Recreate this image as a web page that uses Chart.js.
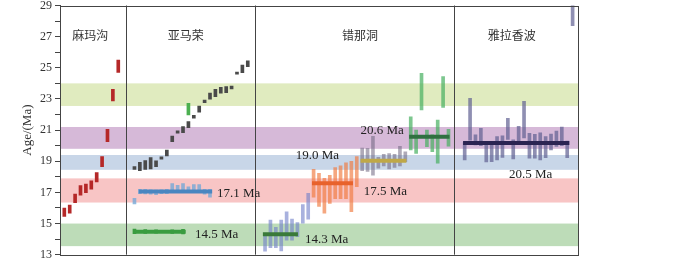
<!DOCTYPE html>
<html><head><meta charset="utf-8">
<script src="https://cdn.jsdelivr.net/npm/chart.js@4/dist/chart.umd.min.js"></script>
<style>html,body{margin:0;padding:0;background:#fff}</style>
</head><body>
<canvas id="c" width="700" height="258"></canvas>
<script>
// ---------- DATA ----------
const yTicksMin = 13, yTicksMax = 29;
const bandLow  = [13.55, 16.35, 18.45, 19.8, 22.55];
const bandHigh = [15.0, 17.9, 19.4, 21.2, 24.0];

const panelNames = ['麻玛沟', '亚马荣', '错那洞', '雅拉香波'];
const panelCenters = [5.6, 23.3, 55.6, 83.7];
const panelEdges = [12.2, 36.2, 73.1];

// 麻玛沟
const mmgPos = [0.8, 1.8, 2.8, 3.8, 4.8, 5.8, 6.8, 7.8, 8.8, 9.8, 10.8];
const mmgLo  = [15.45, 15.66, 16.34, 16.83, 16.98, 17.2, 17.67, 18.65, 20.26, 22.87, 24.7];
const mmgHi  = [16.0, 16.18, 16.9, 17.43, 17.54, 17.75, 18.27, 19.3, 21.05, 23.62, 25.5];

// 亚马荣 (dark)
const ymrPos = [13.8, 14.8, 15.8, 16.8, 17.8, 18.8, 19.8, 20.8, 21.8, 22.8, 23.8, 24.8, 25.8, 26.8, 27.8, 28.8, 29.8, 30.8, 31.8, 32.8, 33.8, 34.8];
const ymrLo  = [18.48, 18.39, 18.48, 18.5, 18.65, 19.13, 19.34, 20.26, 20.8, 20.84, 21.16, 21.76, 22.15, 22.76, 22.98, 23.15, 23.37, 23.4, 23.64, 24.59, 24.69, 25.07];
const ymrHi  = [18.65, 18.93, 19.04, 19.23, 19.02, 19.29, 19.72, 20.62, 20.96, 21.22, 21.54, 21.95, 22.55, 22.93, 23.37, 23.62, 23.75, 23.8, 23.83, 24.73, 25.18, 25.44];
const ymrGreenPos = [23.8];
const ymrGreenLo  = [21.97];
const ymrGreenHi  = [22.72];
// 亚马荣 17.1 Ma group
const ymrBluePos = [13.8, 14.8, 15.8, 16.8, 17.8, 18.8, 19.8, 20.8, 21.8, 22.8, 23.8, 24.8, 25.8, 26.8, 27.8];
const ymrBlueLo  = [16.26, 16.92, 16.9, 16.88, 16.85, 16.92, 16.92, 17.15, 17.1, 17.18, 17.02, 17.05, 17.05, 16.88, 16.7];
const ymrBlueHi  = [16.62, 17.2, 17.2, 17.17, 17.15, 17.17, 17.2, 17.56, 17.45, 17.56, 17.35, 17.5, 17.5, 17.2, 17.2];
// 亚马荣 14.5 Ma group
const ymrG2Pos = [13.8, 15.8, 17.8, 20.8, 22.8];
const ymrG2Lo  = [14.35, 14.36, 14.38, 14.37, 14.34];
const ymrG2Hi  = [14.64, 14.62, 14.6, 14.6, 14.63];

// 错那洞
const cndAPos = [38, 39, 40, 41, 42, 43, 44, 45, 46];
const cndALo  = [13.22, 13.45, 13.45, 13.25, 13.94, 13.94, 14.16, 15.02, 15.28];
const cndAHi  = [14.2, 15.23, 14.75, 15.23, 15.76, 15.28, 15.07, 16.22, 16.94];
const cndBPos = [47, 48, 49, 50, 51, 52, 53, 54, 55];
const cndBLo  = [16.7, 16.1, 15.66, 16.3, 16.6, 16.6, 16.6, 15.76, 17.37];
const cndBHi  = [18.48, 18.23, 17.9, 18.1, 18.6, 18.7, 18.9, 19.0, 19.3];
const cndCPos = [56, 57, 58, 59, 60, 61, 62, 63, 64];
const cndCLo  = [18.4, 18.35, 18.1, 18.55, 18.7, 18.5, 18.6, 18.7, 18.97];
const cndCHi  = [19.85, 19.83, 20.6, 19.25, 19.45, 19.5, 19.45, 19.95, 19.6];
const cndDPos = [65, 66, 67, 68, 69, 70, 71, 72];
const cndDLo  = [19.72, 19.5, 22.29, 19.93, 19.62, 18.87, 22.46, 19.97];
const cndDHi  = [21.86, 21.0, 24.65, 21.0, 20.69, 21.65, 24.43, 21.05];

// 雅拉香波
const ylxbPos = [75, 76, 77, 78, 79, 80, 81, 82, 83, 84, 85, 86, 87, 88, 89, 90, 91, 92, 93, 94, 95];
const ylxbLo  = [19.08, 20.35, 20.05, 20.0, 18.95, 18.97, 19.08, 19.25, 20.4, 19.15, 20.1, 20.5, 19.2, 19.2, 19.08, 19.23, 19.72, 19.95, 20.0, 19.23, 27.7];
const ylxbHi  = [20.2, 23.04, 20.7, 21.12, 20.1, 20.15, 20.58, 20.64, 21.76, 20.37, 21.25, 22.85, 20.8, 20.73, 20.83, 20.58, 20.74, 20.93, 21.2, 20.3, 29.5];

// weighted mean ages
const meanAges  = [14.48, 17.05, 14.31, 17.58, 19.04, 20.58, 20.17];
const meanStart = [13.6, 14.6, 37.6, 46.7, 55.7, 64.7, 74.7];
const meanEnd   = [23.3, 28.2, 44.1, 54.3, 64.2, 72.2, 94.4];
const ageLabels = ['14.5 Ma', '17.1 Ma', '14.3 Ma', '17.5 Ma', '19.0 Ma', '20.6 Ma', '20.5 Ma'];
const labelX    = [25.0, 29.1, 45.4, 56.3, 43.7, 55.7, 83.2];
const labelY    = [14.27, 16.9, 14.0, 17.03, 19.34, 21.0, 18.12];

// ---------- STYLES ----------
const bandColors = ['#bddcb8', '#f8c5c5', '#c8d6e8', '#d6b9d8', '#e0ebbf'];
const meanColors = ['#3a9c40', '#4a86c0', '#3a7a3a', '#e8622c', '#bfa848', '#2f7040', '#2b2452'];

const toBars = (p, lo, hi) => p.map((x, i) => ({x: x, y: [lo[i], hi[i]]}));
const barDs = (data, color, w) => ({type: 'bar', data: data, backgroundColor: color, barThickness: w || 3, order: 2, grouped: false});

const datasets = [
  barDs(toBars(mmgPos, mmgLo, mmgHi), '#b52828'),
  barDs(toBars(ymrPos, ymrLo, ymrHi), '#4a4a4a'),
  barDs(toBars(ymrGreenPos, ymrGreenLo, ymrGreenHi), '#4cb050'),
  barDs(toBars(ymrBluePos, ymrBlueLo, ymrBlueHi), 'rgba(110,165,215,0.75)'),
  barDs(toBars(ymrG2Pos, ymrG2Lo, ymrG2Hi), '#3a9c40'),
  barDs(toBars(cndAPos, cndALo, cndAHi), 'rgba(110,125,200,0.6)'),
  barDs(toBars(cndBPos, cndBLo, cndBHi), 'rgba(240,120,60,0.65)'),
  barDs(toBars(cndCPos, cndCLo, cndCHi), 'rgba(110,100,125,0.55)'),
  barDs(toBars(cndDPos, cndDLo, cndDHi), 'rgba(70,175,95,0.7)'),
  barDs(toBars(ylxbPos, ylxbLo, ylxbHi), 'rgba(95,95,145,0.7)')
];
meanAges.forEach((v, i) => {
  datasets.push({type: 'line', data: [{x: meanStart[i], y: v}, {x: meanEnd[i], y: v}],
    borderColor: meanColors[i], borderWidth: 4, pointRadius: 0, order: 0, fill: false});
});

const decor = {
  id: 'decor',
  beforeDatasetsDraw(chart) {
    const {ctx, chartArea: a, scales: {y}} = chart;
    ctx.save();
    bandLow.forEach((lo, i) => {
      const y1 = y.getPixelForValue(bandHigh[i]), y2 = y.getPixelForValue(lo);
      ctx.fillStyle = bandColors[i];
      ctx.fillRect(a.left, y1, a.right - a.left, y2 - y1);
    });
    ctx.restore();
  },
  afterDatasetsDraw(chart) {
    const {ctx, chartArea: a, scales: {x, y}} = chart;
    ctx.save();
    ctx.strokeStyle = '#444';
    ctx.lineWidth = 1;
    panelEdges.forEach(e => {
      const px = Math.round(x.getPixelForValue(e)) + 0.5;
      ctx.beginPath(); ctx.moveTo(px, a.top); ctx.lineTo(px, a.bottom); ctx.stroke();
    });
    ctx.strokeRect(Math.round(a.left) + 0.5, Math.round(a.top) + 0.5, Math.round(a.right - a.left), Math.round(a.bottom - a.top));
    ctx.fillStyle = '#333';
    ctx.font = '12px "Noto Sans CJK SC"';
    ctx.textAlign = 'center'; ctx.textBaseline = 'middle';
    panelNames.forEach((n, i) => ctx.fillText(n, x.getPixelForValue(panelCenters[i]), y.getPixelForValue(27.07)));
    ctx.font = '13px "Liberation Serif"';
    ctx.textAlign = 'left';
    ctx.fillStyle = '#222';
    ageLabels.forEach((t, i) => ctx.fillText(t, x.getPixelForValue(labelX[i]), y.getPixelForValue(labelY[i])));
    ctx.restore();
  }
};

new Chart(document.getElementById('c'), {
  type: 'bar',
  data: {datasets: datasets},
  options: {
    responsive: false, animation: false, devicePixelRatio: 1,
    layout: {padding: {top: 5.5, bottom: 3.3, left: 0, right: 122}},
    plugins: {legend: {display: false}, tooltip: {enabled: false}},
    scales: {
      x: {type: 'linear', min: 0, max: 96, display: false, offset: false, grid: {offset: false}},
      y: {
        type: 'linear', min: yTicksMin, max: yTicksMax,
        ticks: {stepSize: 1, autoSkip: false, color: '#333', padding: 3,
          font: {family: 'Liberation Serif', size: 12},
          callback: v => (v % 2 === 1 ? String(v) : '')},
        grid: {drawOnChartArea: false, drawTicks: true, tickLength: 5, tickColor: '#444'},
        border: {display: true, color: '#444'},
        title: {display: true, text: 'Age/(Ma)', color: '#333',
          font: {family: 'Liberation Serif', size: 13}, padding: {top: 20, bottom: 0}},
        afterFit: s => { s.width = 60; s.paddingTop = 0; s.paddingBottom = 0; }
      }
    }
  },
  plugins: [decor]
});
</script>
</body></html>
